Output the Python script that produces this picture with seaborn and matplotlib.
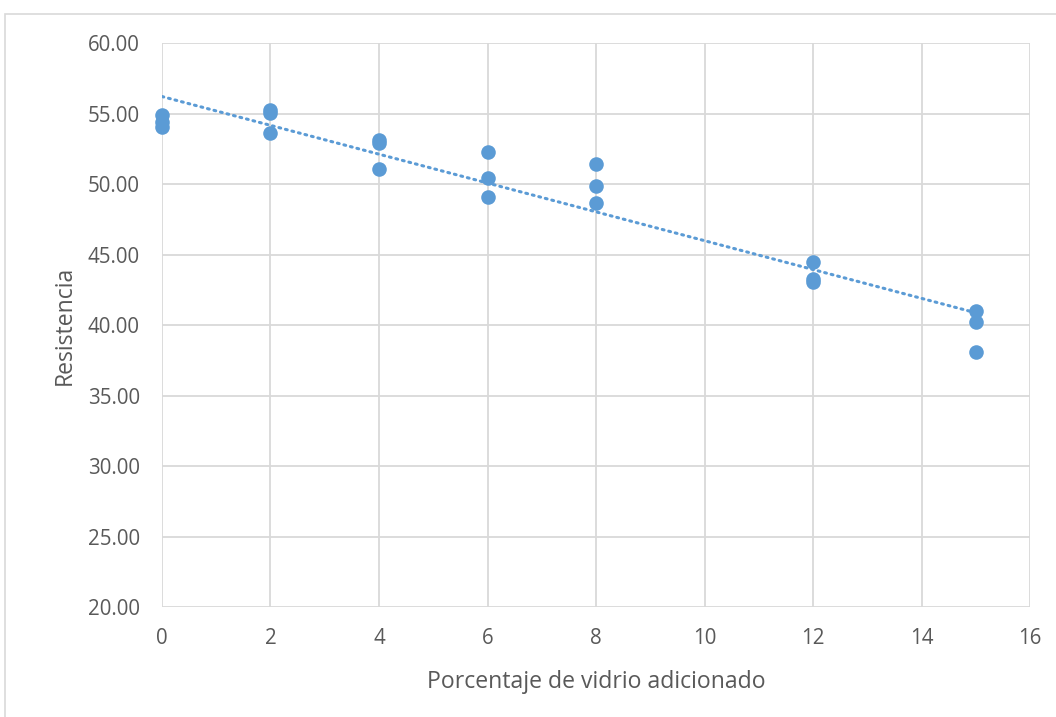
"""
Resistencia vs porcentaje de vidrio adicionado, with linear trendline.
"""

import matplotlib.pyplot as plt
import numpy as np
import pandas as pd
import seaborn as sns
from matplotlib.patches import Rectangle

# Data (three samples per glass percentage)
porcentaje = [0, 0, 0, 2, 2, 2, 4, 4, 4, 6, 6, 6, 8, 8, 8, 12, 12, 12, 15, 15, 15]
resistencia = [54.9, 54.4, 54.05, 55.25, 55.05, 53.6, 53.1, 52.9, 51.1,
               52.3, 50.45, 49.1, 51.4, 49.85, 48.65, 44.45, 43.25, 43.05,
               41.0, 40.2, 38.1]
x_ticks = list(range(0, 17, 2))
y_ticks = [20, 25, 30, 35, 40, 45, 50, 55, 60]

df = pd.DataFrame({"porcentaje": porcentaje, "resistencia": resistencia})

sns.set_theme(style="white")
plt.rcParams["font.family"] = ["Open Sans", "DejaVu Sans"]

blue = "#5B9BD5"
grey_txt = "#595959"

fig = plt.figure(figsize=(10.56, 7.17), dpi=100)
ax = fig.add_axes([0.1534, 0.1534, 0.8220, 0.7866])

# linear trendline (dotted), like the Excel one
sns.regplot(data=df, x="porcentaje", y="resistencia", ax=ax, ci=None,
            scatter=False, truncate=True,
            line_kws={"color": blue, "lw": 2.2, "ls": (0, (0.6, 1.6)),
                      "dash_capstyle": "round", "zorder": 2})
sns.scatterplot(data=df, x="porcentaje", y="resistencia", ax=ax, s=110,
                color=blue, edgecolor=blue, linewidth=0, zorder=3,
                clip_on=False)

ax.set_xlim(0, 16)
ax.set_ylim(20, 60)
ax.set_xticks(x_ticks)
ax.set_yticks(y_ticks)
ax.set_yticklabels([f"{v:.2f}" for v in y_ticks])
ax.grid(True, color="#d9d9d9", lw=1.3)
ax.set_axisbelow(True)
for s in ax.spines.values():
    s.set_visible(False)
ax.tick_params(length=0, labelsize=14.8, colors=grey_txt)
ax.tick_params(axis="y", pad=16)
ax.tick_params(axis="x", pad=15)
ax.set_xlabel("Porcentaje de vidrio adicionado", fontsize=16.6, color=grey_txt, labelpad=15)
ax.set_ylabel("Resistencia", fontsize=16.6, color=grey_txt, labelpad=8)

# chart area border
fig.patches.append(Rectangle((5 / 1056, -0.1), 1.2, 1 - 14 / 717 + 0.1,
                             transform=fig.transFigure, fill=False,
                             edgecolor="#d9d9d9", lw=1.2))

plt.savefig("out.png", dpi=100)
